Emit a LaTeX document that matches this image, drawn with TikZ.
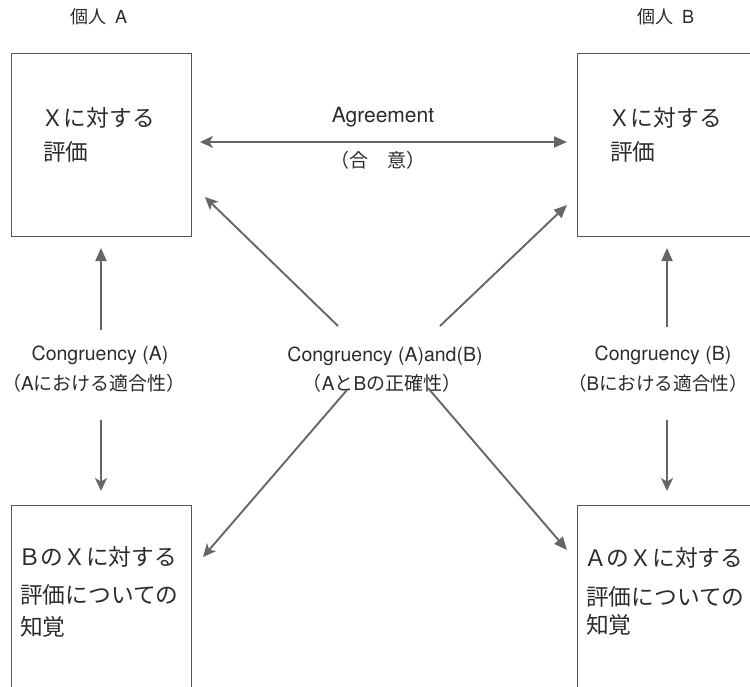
\documentclass[tikz,border=0pt]{standalone}
\usepackage{fontspec}
\setmainfont{Noto Sans CJK JP}
\newfontfamily\latinfont{TeX Gyre Heros}
\usetikzlibrary{arrows.meta}
\definecolor{linegray}{HTML}{666666}
\definecolor{boxgray}{HTML}{555555}
\definecolor{inkgray}{HTML}{2b2b2b}

\begin{document}
\begin{tikzpicture}[x=1pt,y=-1pt,
  panel/.style={draw=boxgray, line width=1.4pt, minimum width=180pt, minimum height=183pt, anchor=north west, inner sep=0pt},
  boxtext/.style={anchor=west, font=\fontsize{22.7}{22.7}\selectfont, text=inkgray, inner sep=0pt},
  lbl/.style={font=\fontsize{19}{19}\selectfont, text=inkgray, inner sep=0pt},
  latlbl/.style={font=\fontsize{19.5}{19.5}\selectfont\latinfont, text=inkgray, inner sep=0pt},
  head/.style={font=\fontsize{18}{18}\selectfont, text=inkgray, inner sep=0pt},
  link/.style={draw=linegray, line width=1.9pt},
  tipT/.style={-{Triangle[length=13pt,width=11pt]}},
  tipS/.style={-{Stealth[length=13pt,width=12pt,inset=3.5pt]}},
]
\useasboundingbox (0,0) rectangle (750,686);
\clip (0,0) rectangle (750,686);

% headings
\node[head] (hA) at (99,17) {個人\hspace{0.45em}{\latinfont A}};
\node[head] (hB) at (666,17) {個人\hspace{0.45em}{\latinfont B}};

% four panels
\node[panel] (boxA) at (11,53) {};
\node[panel] (boxB) at (577,53) {};
\node[panel] (boxBA) at (11,505) {};
\node[panel] (boxAB) at (577,505) {};

% panel texts
\node[boxtext] (tA1) at (41,118) {Ｘに対する};
\node[boxtext] (tA2) at (43,152) {評価};
\node[boxtext] (tB1) at (608,118) {Ｘに対する};
\node[boxtext] (tB2) at (610,152) {評価};
\node[boxtext] (pA1) at (18,557) {ＢのＸに対する};
\node[boxtext] (pA2) at (20,595) {評価についての};
\node[boxtext] (pA3) at (20,627) {知覚};
\node[boxtext] (pB1) at (584,558) {ＡのＸに対する};
\node[boxtext] (pB2) at (586,597) {評価についての};
\node[boxtext] (pB3) at (586,625) {知覚};

% labels
\node[latlbl, font=\fontsize{21}{21}\selectfont\latinfont] (agree) at (383,117) {Agreement};
\node[lbl] (agreeJ) at (378,160) {（合　意）};
\node[latlbl] (cA) at (100,355) {Congruency (A)};
\node[lbl] (cAJ) at (94,383) {（{\latinfont A}における適合性）};
\node[latlbl] (cAB) at (385,356) {Congruency (A)and(B)};
\node[lbl] (cABJ) at (382,383) {（{\latinfont A}と{\latinfont B}の正確性）};
\node[latlbl] (cB) at (663,355) {Congruency (B)};
\node[lbl, font=\fontsize{18.6}{18.6}\selectfont] (cBJ) at (658,383) {（{\latinfont B}における適合性）};

% arrow end points
\coordinate (agL) at (200,142);
\coordinate (agR) at (567,142);
\coordinate (aUpS) at (101,330);
\coordinate (aUpE) at (101,248);
\coordinate (aDnS) at (101,420);
\coordinate (aDnE) at (101,491);
\coordinate (bUpS) at (667,327);
\coordinate (bUpE) at (667,248);
\coordinate (bDnS) at (667,420);
\coordinate (bDnE) at (667,491);
\coordinate (dTLs) at (338,326);
\coordinate (dTLe) at (205,197);
\coordinate (dTRs) at (440,326);
\coordinate (dTRe) at (567,205);
\coordinate (dBLs) at (347,390);
\coordinate (dBLe) at (203,557);
\coordinate (dBRs) at (428,388);
\coordinate (dBRe) at (567,550);

% connectors
\draw[link, {Stealth[length=13pt,width=12pt,inset=3.5pt]}-{Triangle[length=13pt,width=11pt]}] (agL) -- (agR);
\draw[link, tipT] (aUpS) -- (aUpE);
\draw[link, tipS] (aDnS) -- (aDnE);
\draw[link, tipT] (bUpS) -- (bUpE);
\draw[link, tipS] (bDnS) -- (bDnE);
\draw[link, tipS] (dTLs) -- (dTLe);
\draw[link, tipT] (dTRs) -- (dTRe);
\draw[link, tipS] (dBLs) -- (dBLe);
\draw[link, tipT] (dBRs) -- (dBRe);
\end{tikzpicture}
\end{document}
